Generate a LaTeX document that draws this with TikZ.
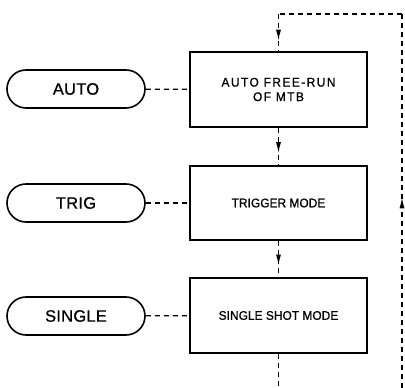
\documentclass[tikz,border=0pt]{standalone}
\usepackage{fontspec}
\setmainfont{Liberation Sans}
\newfontfamily\pillfont[LetterSpace=1.5,FakeBold=0.8]{Liberation Sans}
\newfontfamily\wideboxfont[LetterSpace=12,FakeStretch=0.95,FakeBold=1]{Liberation Sans}
\newfontfamily\boxfont[LetterSpace=0.5,FakeStretch=0.95,FakeBold=1]{Liberation Sans}
\usetikzlibrary{arrows.meta,decorations.markings}
\begin{document}
\begin{tikzpicture}[x=1pt,y=-1pt,
  pill/.style={draw, line width=1.6pt, minimum width=138pt, minimum height=38pt,
    rounded corners=19pt, inner sep=0pt, font=\pillfont\fontsize{16.5}{18}\selectfont},
  modebox/.style={draw, line width=1.8pt, minimum width=177pt, minimum height=75pt,
    inner sep=0pt, align=center, font=\boxfont\fontsize{12.5}{14.5}\selectfont},
  dline/.style={line width=1.2pt, dash pattern=on 5pt off 4pt},
  midarrow/.style={postaction={decorate}, decoration={markings,
    mark=at position #1 with {\arrow[solid]{Latex[length=11pt,width=5pt]}}}}
]
\useasboundingbox (0,0) rectangle (405,388);
\node[pill] (auto) at (76,89) {AUTO};
\node[pill] (trig) at (76,203) {TRIG};
\node[pill] (single) at (76,316) {SINGLE};
\node[modebox, font=\wideboxfont\fontsize{12.5}{14.5}\selectfont] (b1) at (278.5,89.5) {AUTO FREE-RUN\\OF MTB};
\node[modebox, minimum height=74pt] (b2) at (278.5,203) {TRIGGER MODE};
\node[modebox] (b3) at (278.5,315.5) {SINGLE SHOT MODE};
\coordinate (tl) at (278.5,14);
\coordinate (tr) at (402,14);
\coordinate (br) at (402,388);
\coordinate (bm) at (278.5,388);
\draw[dline] (auto) -- (b1);
\draw[dline] (trig) -- (b2);
\draw[dline] (single) -- (b3);
\draw[dline, midarrow=0.72] (tl) -- (b1.north);
\draw[dline, midarrow=0.68] (b1.south) -- (b2.north);
\draw[dline, midarrow=0.68] (b2.south) -- (b3.north);
\draw[dline] (b3.south) -- (bm);
\draw[dline, midarrow=0.51] (br) -- (tr);
\draw[dline] (tr) -- (tl);
\end{tikzpicture}
\end{document}
